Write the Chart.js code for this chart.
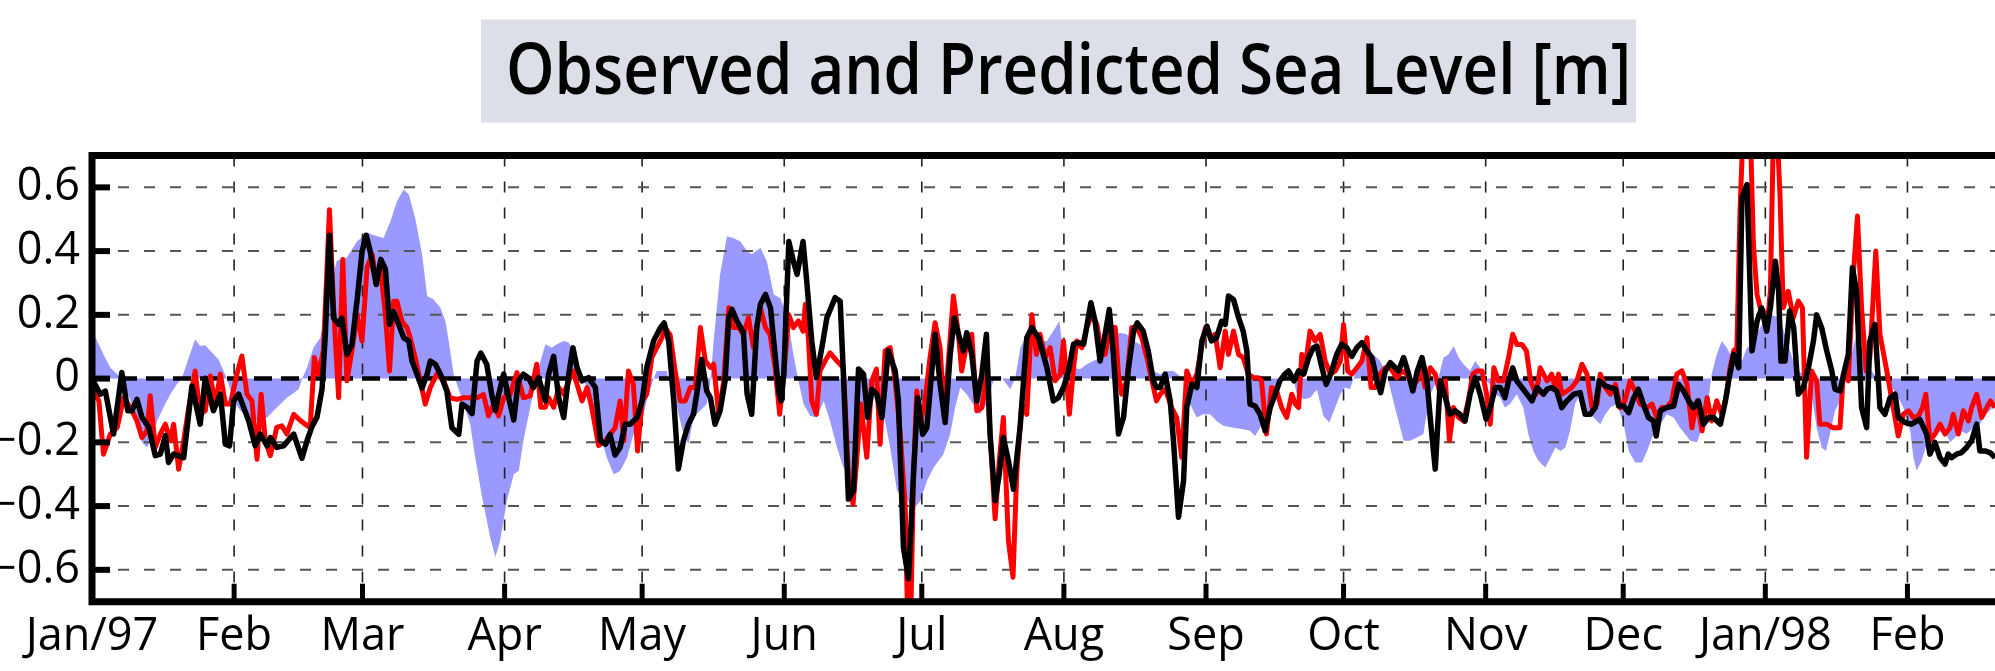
<!DOCTYPE html>
<html><head><meta charset="utf-8">
<script src="https://cdn.jsdelivr.net/npm/chart.js@4/dist/chart.umd.min.js"></script>
<style>html,body{margin:0;padding:0;background:#fff;overflow:hidden}canvas{display:block}</style>
</head><body>
<canvas id="c" width="1995" height="671"></canvas>
<script>
const titleText = 'Observed and Predicted Sea Level [m]';
// x values are days since 1 Jan 1997
const monthDays = [0,31,59,90,120,151,181,212,243,273,304,334,365,396];
const monthLabels = ['Jan/97','Feb','Mar','Apr','May','Jun','Jul','Aug','Sep','Oct','Nov','Dec','Jan/98','Feb'];
const levelTicks = [-0.6,-0.4,-0.2,0,0.2,0.4,0.6];

// black line
const predDays = [0,1.8,2.9,4.7,6.5,7.8,8.7,9.8,10.9,12.4,13.8,14.9,16.0,16.7,17.8,20.0,21.8,23.6,24.7,26.5,28.0,29.1,30.0,30.9,32.0,33.1,34.2,35.6,36.7,38.2,38.9,40.3,41.8,44.0,45.8,46.9,48.0,49.1,50.2,50.9,51.8,52.7,53.8,54.5,55.6,56.7,57.8,58.9,59.8,60.7,62.0,63.0,64.0,64.9,65.8,66.9,68.0,69.1,69.8,70.9,72.0,73.1,73.8,74.9,76.0,77.4,78.5,80.0,80.7,81.8,82.9,84.0,84.8,86.1,87.2,88.0,88.7,89.8,90.9,92.0,93.0,94.1,95.2,96.3,97.4,98.9,99.6,100.7,101.8,102.9,104.0,104.9,105.8,106.9,108.3,109.8,110.9,112.0,113.0,114.1,115.2,116.3,117.4,118.9,120.0,121.0,122.5,124.0,124.8,125.8,126.9,127.9,129.0,130.1,131.2,131.9,133.0,134.1,134.9,135.9,137.0,138.1,138.9,139.6,140.7,142.1,142.9,143.9,145.0,145.8,146.9,148.0,148.7,149.8,150.3,150.9,152.0,153.0,153.8,155.1,155.9,157.0,158.0,159.2,160.3,162.1,163.2,163.9,165.0,166.1,167.2,168.3,169.2,170.1,171.2,172.3,173.7,175.2,175.9,177.0,178.1,179.2,180.1,181.2,182.1,183.0,183.9,185.0,186.1,187.2,188.1,189.0,190.1,190.8,191.9,193.0,194.1,195.1,195.9,197.0,197.9,198.8,199.9,201.0,202.5,203.9,205.0,206.5,208.3,209.7,210.8,211.9,213.0,214.1,215.2,216.3,217.9,218.8,219.9,221.0,221.9,222.8,223.9,225.0,226.1,227.2,228.0,229.3,230.4,231.5,232.2,233.0,234.1,235.2,235.9,237.0,238.1,238.8,239.9,241.0,242.1,243.2,244.2,245.3,246.4,247.2,247.9,249.0,250.1,251.1,251.9,252.6,253.7,254.8,255.9,257.0,258.1,259.1,260.2,261.0,262.2,263.2,264.3,265.4,266.4,267.2,268.3,269.2,270.2,271.5,272.6,273.7,274.8,275.9,277.0,278.1,279.2,280.3,281.1,282.1,283.2,284.3,285.0,286.1,287.2,288.1,289.1,290.1,291.2,291.9,293.0,294.1,295.2,296.2,297.3,298.4,299.5,300.6,301.7,302.8,304.1,305.0,306.1,307.2,308.2,309.0,309.9,310.8,311.9,313.0,314.1,315.2,316.6,317.4,318.4,319.5,320.6,321.7,323.2,324.6,325.7,326.8,327.9,328.8,330.1,331.2,332.3,333.0,334.1,335.2,336.3,337.3,338.4,339.5,340.6,341.2,342.1,343.5,345.0,346.1,347.2,348.3,349.3,350.4,351.5,352.6,353.7,355.2,356.3,357.0,358.1,359.2,359.9,361.0,362.1,363.2,364.2,365.3,366.1,367.2,367.9,368.4,369.3,370.3,371.2,372.2,373.3,374.4,375.5,376.2,377.3,378.4,379.5,380.2,381.3,382.4,383.1,384.0,384.9,386.0,387.1,387.8,388.9,390.0,391.1,392.2,393.3,394.0,395.5,396.9,398.7,400.2,400.9,402.0,403.1,404.2,404.9,405.6,406.7,407.8,408.9,410.0,411.1,411.8,412.9,414.0,415.1];
const predLevel = [0.0,-0.049,-0.039,-0.174,0.019,-0.101,-0.101,-0.065,-0.122,-0.153,-0.242,-0.237,-0.179,-0.263,-0.237,-0.248,-0.023,-0.143,0.001,-0.101,-0.049,-0.206,-0.211,-0.07,-0.049,-0.091,-0.133,-0.211,-0.174,-0.211,-0.185,-0.216,-0.211,-0.174,-0.25,-0.195,-0.15,-0.12,-0.03,0.14,0.45,0.19,0.17,0.19,0.076,0.107,0.243,0.398,0.45,0.398,0.295,0.374,0.343,0.17,0.21,0.17,0.128,0.118,0.055,0.014,-0.03,0.014,0.055,0.045,0.014,-0.039,-0.154,-0.175,-0.08,-0.09,-0.11,0.055,0.08,0.045,-0.05,-0.1,-0.05,0.014,-0.06,-0.13,-0.007,0.014,0.003,-0.028,0.003,-0.07,0.014,0.07,-0.06,-0.122,0.014,0.097,0.035,-0.007,0.003,-0.028,-0.195,-0.206,-0.175,-0.24,-0.216,-0.143,-0.143,-0.122,-0.07,0.035,0.118,0.16,0.175,0.118,-0.07,-0.284,-0.195,-0.143,-0.112,-0.049,0.06,-0.039,-0.06,-0.143,-0.101,-0.007,0.191,0.217,0.18,0.144,-0.049,-0.112,0.16,0.233,0.264,0.222,0.118,-0.039,-0.07,0.014,0.43,0.368,0.327,0.43,0.306,0.118,0.003,0.097,0.191,0.254,0.243,0.014,-0.378,-0.352,0.03,0.014,-0.122,-0.034,-0.049,-0.122,0.087,0.024,-0.07,-0.53,-0.628,-0.3,-0.06,-0.175,-0.154,-0.007,0.139,-0.018,-0.138,0.076,0.191,0.139,0.087,0.144,0.076,-0.07,0.014,0.139,-0.175,-0.383,-0.3,-0.185,-0.258,-0.347,-0.143,0.128,0.16,0.128,0.034,-0.07,-0.06,-0.028,0.024,0.108,0.113,0.108,0.238,0.18,0.055,0.139,0.217,0.076,-0.174,-0.122,0.034,0.149,0.175,0.149,0.087,-0.007,-0.028,-0.028,0.014,-0.07,-0.195,-0.435,-0.32,-0.09,-0.018,-0.028,0.118,0.165,0.118,0.128,0.18,0.17,0.259,0.248,0.191,0.149,0.087,-0.08,-0.086,-0.112,-0.164,-0.091,-0.049,-0.007,0.014,0.024,-0.007,0.024,0.014,0.066,0.097,0.102,0.034,-0.018,0.014,0.076,0.108,0.097,0.07,0.097,0.113,0.087,0.066,-0.007,-0.044,0.024,0.05,0.034,0.024,0.066,0.014,-0.039,0.024,0.066,-0.007,-0.122,-0.284,-0.007,-0.06,-0.112,-0.101,-0.112,-0.133,-0.049,0.003,-0.049,-0.127,-0.091,-0.028,-0.028,-0.06,-0.007,0.034,-0.007,-0.028,-0.049,-0.07,-0.028,-0.049,-0.033,-0.028,-0.039,-0.091,-0.07,-0.049,-0.044,-0.112,-0.112,-0.091,-0.007,-0.023,-0.028,-0.033,-0.086,-0.086,-0.107,-0.06,-0.033,-0.08,-0.122,-0.133,-0.18,-0.101,-0.091,-0.086,-0.018,-0.039,-0.07,-0.091,-0.07,-0.143,-0.122,-0.122,-0.143,-0.07,-0.007,0.076,0.034,0.567,0.609,0.087,0.18,0.222,0.149,0.222,0.368,0.274,0.055,0.055,0.212,0.16,-0.049,-0.028,0.034,0.118,0.2,0.159,0.087,0.024,-0.033,-0.039,0.034,0.076,0.348,0.274,-0.091,-0.154,0.118,0.17,-0.091,-0.112,-0.06,-0.049,-0.122,-0.138,-0.143,-0.128,-0.174,-0.237,-0.2,-0.248,-0.268,-0.237,-0.248,-0.237,-0.232,-0.216,-0.195,-0.143,-0.227,-0.227,-0.232,-0.248];

// red line
const obsDays = [0,1.5,2.5,4.0,5.5,6.9,8.4,9.8,10.9,12.0,12.7,13.8,14.9,16.0,17.1,17.8,18.9,20.0,21.1,22.5,23.6,24.7,25.8,26.9,28.0,29.1,30.2,31.6,32.7,33.8,34.9,36.0,36.9,37.8,38.9,40.3,41.4,42.5,44.0,45.3,46.5,47.6,48.5,49.4,50.5,51.8,52.7,53.8,54.7,55.6,56.7,57.8,58.9,60.0,61.1,62.0,62.9,64.0,64.9,65.8,66.5,67.6,68.7,69.4,70.5,71.6,72.7,73.8,75.2,76.7,78.1,79.6,81.0,82.5,84.0,85.4,86.5,87.6,88.7,89.8,91.2,92.7,94.1,95.6,97.0,97.9,98.9,99.6,100.7,101.8,102.9,104.0,104.9,105.8,106.9,108.0,109.0,110.5,112.0,113.0,114.1,115.2,116.0,117.0,118.1,119.0,120.0,121.0,122.1,123.2,124.3,125.0,126.1,127.2,128.3,129.4,130.5,131.6,132.7,133.8,134.9,135.6,136.7,137.8,138.9,139.9,141.0,142.1,143.2,144.3,145.0,145.8,146.9,147.9,149.0,150.0,150.9,152.0,153.0,154.1,155.1,155.6,156.3,157.0,158.0,158.8,159.9,161.0,162.5,163.9,165.0,166.0,166.8,167.7,169.0,170.1,171.1,171.9,173.0,174.1,175.2,176.3,177.4,177.9,178.6,179.2,179.9,180.8,181.7,182.8,183.9,185.0,185.9,186.8,187.9,189.0,189.7,190.8,191.9,193.0,194.1,195.2,195.9,197.0,197.9,198.8,199.9,200.9,201.7,202.8,203.9,205.0,206.0,206.8,207.9,209.0,210.1,211.2,211.9,212.6,213.2,214.1,214.8,215.9,217.0,218.1,219.2,220.3,221.0,222.1,223.2,223.9,224.6,225.7,226.8,227.9,229.0,230.1,231.2,232.2,233.0,234.1,235.5,236.6,237.7,238.8,239.9,241.0,242.1,242.9,243.9,245.0,246.1,247.2,247.9,249.0,250.1,251.1,252.2,253.3,254.4,255.1,256.2,257.3,258.4,259.5,260.6,261.7,262.5,263.2,263.9,264.6,265.7,266.8,267.9,269.0,270.1,271.2,272.3,273.0,273.9,274.8,275.9,277.0,278.1,279.0,279.9,281.0,282.1,283.2,284.6,285.7,286.8,287.9,289.0,290.1,290.8,291.9,293.0,294.1,295.2,296.1,297.0,298.1,299.2,300.2,301.2,302.1,303.2,304.2,305.0,305.8,306.8,307.9,309.0,309.9,310.8,311.9,312.9,313.8,315.0,315.9,316.6,317.4,318.4,319.2,319.9,320.6,321.7,322.8,323.9,325.0,326.1,327.2,328.3,329.0,330.1,331.2,332.3,333.4,334.4,335.5,336.6,337.7,339.2,340.3,341.3,342.4,343.5,344.6,345.7,346.8,347.9,349.0,350.1,351.2,352.3,353.3,354.4,355.5,356.6,357.3,358.1,358.8,359.5,360.2,361.7,362.4,363.2,363.9,364.6,365.3,366.1,366.8,367.5,368.2,368.9,370.0,371.1,372.2,373.1,374.0,375.1,376.2,376.9,378.4,379.8,381.3,382.0,383.1,384.2,385.1,386.0,387.0,387.8,389.1,390.0,391.5,392.9,394.0,395.1,396.2,397.3,398.4,399.3,400.0,400.9,402.0,403.1,404.2,405.3,406.0,407.1,408.2,409.3,410.0,411.1,412.2,413.3,414.1,415.1];
const obsLevel = [-0.03,-0.07,-0.237,-0.174,-0.153,-0.06,-0.091,-0.133,-0.185,-0.164,-0.054,-0.216,-0.174,-0.143,-0.195,-0.143,-0.284,-0.195,-0.091,0.024,-0.112,-0.101,0.008,-0.08,0.014,-0.08,-0.08,0.014,0.071,-0.049,-0.07,-0.253,-0.049,-0.195,-0.242,-0.153,-0.148,-0.174,-0.112,-0.13,-0.143,-0.154,0.066,0.014,0.09,0.53,0.222,-0.06,0.374,-0.007,0.087,0.202,0.118,0.348,0.39,0.306,0.348,0.201,0.024,0.243,0.243,0.18,0.16,0.128,0.066,-0.007,-0.08,-0.028,0.014,-0.007,-0.06,-0.065,-0.06,-0.06,-0.06,-0.05,-0.117,-0.08,-0.117,-0.06,-0.05,0.019,-0.06,-0.054,0.045,-0.09,-0.09,-0.06,-0.09,-0.028,-0.049,-0.007,0.024,-0.018,-0.07,-0.028,-0.09,-0.21,-0.195,-0.175,-0.154,-0.07,-0.195,0.024,-0.018,-0.227,-0.07,-0.049,0.066,0.097,0.128,0.16,0.138,0.024,-0.07,-0.07,-0.028,-0.028,0.16,0.055,0.035,0.045,-0.112,-0.007,0.222,0.16,0.16,0.139,0.191,0.097,0.16,0.222,0.16,0.139,0.035,-0.112,0.014,0.2,0.16,0.181,0.149,0.233,0.118,-0.07,-0.112,0.024,0.055,0.081,0.055,0.034,-0.3,-0.394,-0.258,-0.08,-0.247,-0.007,0.03,-0.206,0.087,0.097,-0.007,-0.174,-0.404,-0.75,-0.75,-0.3,-0.039,-0.133,-0.07,0.066,0.175,0.097,-0.122,0.055,0.259,0.139,0.024,0.108,0.139,-0.101,-0.091,0.014,-0.175,-0.44,-0.258,-0.122,-0.508,-0.623,-0.3,-0.08,-0.112,0.2,0.076,0.139,0.066,0.097,-0.007,0.014,0.118,-0.007,-0.112,0.034,0.118,0.097,0.16,0.201,0.17,0.076,0.076,0.16,0.16,0.014,-0.049,-0.007,0.16,0.16,0.128,0.066,-0.007,-0.07,-0.049,-0.033,-0.091,-0.122,-0.247,0.024,-0.018,0.014,0.107,0.16,0.128,0.139,0.034,0.149,0.076,0.149,0.076,0.066,0.014,0.003,0.003,-0.007,-0.174,-0.028,-0.039,-0.091,-0.122,-0.049,-0.08,-0.091,0.076,0.034,0.149,0.118,0.139,0.055,0.014,0.024,0.055,0.17,0.024,0.014,0.034,0.055,0.128,-0.028,-0.028,0.014,0.034,0.034,0.003,0.024,0.014,-0.018,-0.007,0.024,-0.028,0.034,0.014,-0.049,-0.007,-0.195,-0.091,-0.122,-0.133,-0.07,0.014,0.024,0.024,-0.049,-0.143,0.034,-0.007,-0.007,0.066,0.139,0.107,0.107,0.087,-0.007,-0.049,0.034,0.014,-0.007,0.014,-0.028,0.014,-0.049,-0.039,-0.028,-0.007,0.045,0.014,-0.091,-0.08,0.014,-0.028,-0.049,-0.018,-0.091,-0.07,-0.007,-0.039,-0.08,-0.091,-0.08,-0.122,-0.091,-0.091,-0.07,0.014,0.024,-0.018,-0.154,-0.07,-0.164,-0.06,-0.133,-0.07,-0.112,-0.049,0.034,0.087,0.097,0.535,0.8,0.8,0.42,0.264,0.222,0.212,0.149,0.274,0.8,0.8,0.577,0.222,0.274,0.191,0.243,0.222,-0.247,0.024,-0.007,-0.143,-0.143,-0.154,-0.154,0.014,-0.007,0.327,0.51,0.222,0.024,0.066,0.4,0.139,0.024,-0.091,-0.18,-0.112,-0.101,-0.122,-0.117,-0.091,-0.049,-0.195,-0.174,-0.143,-0.174,-0.154,-0.112,-0.174,-0.101,-0.133,-0.091,-0.049,-0.122,-0.091,-0.07,-0.091];

// blue shaded band
const bandDays = [0,1.5,2.5,4.0,5.5,6.5,8.4,9.8,10.9,12.0,13.1,14.2,15.6,17.1,18.5,19.6,21.1,22.5,23.6,24.7,26.2,27.6,28.7,29.4,30.9,32.4,33.8,35.3,36.7,38.2,39.6,41.1,42.5,44.0,45.1,45.8,46.9,48.3,49.8,51.2,53.4,55.6,57.8,60.0,62.2,63.6,65.1,66.5,68.0,69.1,70.5,72.0,73.1,74.5,76.0,77.1,77.8,78.9,79.6,81.1,82.5,83.6,85.1,86.9,88.0,89.0,90.5,92.0,93.1,94.1,95.6,97.4,98.9,100.3,101.4,102.9,104.0,105.0,106.1,106.9,108.0,109.4,110.9,112.3,113.8,115.2,116.7,118.1,119.6,121.0,122.5,123.2,125.4,126.1,127.6,129.0,130.1,131.2,132.7,134.1,134.9,135.6,137.0,138.5,140.0,141.4,142.9,143.9,145.8,147.2,148.7,150.1,151.6,153.0,154.1,155.2,156.7,158.1,159.6,161.0,162.5,163.9,165.4,166.5,167.6,169.7,171.2,172.7,174.1,175.6,177.4,179.2,180.7,182.1,183.6,185.7,187.2,188.3,189.4,190.8,192.6,193.7,195.2,196.6,198.1,199.2,200.3,201.4,202.5,203.6,205.0,206.5,208.3,209.7,211.0,211.9,213.0,214.1,215.5,217.0,218.4,219.9,221.3,222.8,224.2,225.7,227.2,228.6,230.1,231.5,233.0,234.4,235.9,237.3,238.8,239.5,241.0,242.4,243.9,245.3,246.8,249.0,251.1,252.6,253.7,254.8,256.2,257.7,259.1,260.6,262.1,262.8,264.3,265.7,267.2,268.6,269.9,271.2,272.3,273.3,274.4,275.5,276.6,278.1,279.5,281.0,282.4,283.5,284.6,286.1,287.5,289.0,290.4,291.9,293.7,294.8,295.9,297.0,298.1,299.2,300.6,301.7,302.8,303.9,305.0,306.1,307.2,308.2,309.3,310.8,312.2,313.3,314.4,315.5,317.0,318.1,319.2,320.3,321.4,322.4,323.5,324.6,326.1,327.5,329.0,330.1,331.2,332.6,334.1,335.2,336.6,338.1,339.2,340.6,342.1,343.5,345.0,346.4,347.5,348.6,350.1,351.5,352.3,353.3,354.4,355.5,356.6,357.7,358.8,359.9,361.0,362.4,363.5,364.6,366.1,368.2,369.7,371.1,372.2,373.3,374.4,375.1,376.2,377.3,378.2,379.1,380.2,381.3,382.7,383.8,384.9,386.0,387.1,388.2,389.3,390.7,392.2,393.6,395.1,396.6,397.3,398.0,399.1,400.2,401.3,402.4,403.5,404.5,405.3,406.4,407.5,408.9,410.4,411.8,412.9,414.0,415.1];
const bandLevel = [0.15,0.107,0.076,0.034,0.014,0.0,-0.07,-0.153,-0.2,-0.216,-0.185,-0.133,-0.09,-0.049,-0.018,0.0,0.066,0.123,0.102,0.105,0.081,0.06,0.024,0.0,-0.07,-0.101,-0.122,-0.133,-0.127,-0.122,-0.101,-0.08,-0.06,-0.045,-0.033,-0.002,0.035,0.097,0.128,0.24,0.37,0.38,0.43,0.458,0.447,0.441,0.494,0.556,0.593,0.578,0.504,0.39,0.259,0.248,0.222,0.18,0.118,0.014,-0.018,-0.08,-0.143,-0.248,-0.373,-0.5,-0.56,-0.51,-0.383,-0.3,-0.289,-0.195,-0.09,0.034,0.108,0.097,0.108,0.118,0.113,0.076,0.034,0.0,-0.028,-0.09,-0.175,-0.248,-0.3,-0.29,-0.248,-0.175,-0.154,-0.07,0.0,0.024,0.024,-0.028,-0.09,-0.174,-0.206,-0.122,-0.1,-0.08,-0.007,0.118,0.327,0.447,0.44,0.43,0.4,0.39,0.41,0.368,0.264,0.253,0.2,0.076,-0.007,-0.08,-0.117,-0.122,-0.07,-0.133,-0.216,-0.279,-0.3,-0.3,-0.154,-0.09,-0.049,-0.112,-0.216,-0.352,-0.373,-0.41,-0.383,-0.321,-0.279,-0.237,-0.174,-0.09,-0.028,-0.049,-0.09,-0.112,-0.08,-0.007,0.008,-0.012,-0.033,0.003,0.097,0.128,0.139,0.118,0.118,0.149,0.18,0.076,0.024,0.034,0.029,0.045,0.055,0.066,0.087,0.128,0.144,0.139,0.118,0.108,0.076,0.024,0.014,0.024,0.024,0.008,-0.007,-0.08,-0.122,-0.112,-0.112,-0.133,-0.148,-0.154,-0.159,-0.164,-0.18,-0.154,-0.091,-0.049,-0.007,0.003,-0.002,-0.049,-0.065,-0.06,-0.034,-0.117,-0.138,-0.09,-0.049,-0.028,-0.033,0.014,0.055,0.087,0.076,0.055,0.014,-0.049,-0.112,-0.195,-0.195,-0.185,-0.174,-0.049,0.003,0.066,0.076,0.102,0.066,0.045,0.024,0.055,0.034,-0.007,-0.018,-0.049,-0.06,-0.091,-0.08,-0.049,-0.091,-0.174,-0.227,-0.258,-0.279,-0.248,-0.216,-0.227,-0.216,-0.164,-0.08,-0.049,-0.101,-0.122,-0.143,-0.112,-0.091,-0.08,-0.143,-0.227,-0.263,-0.263,-0.227,-0.174,-0.143,-0.112,-0.122,-0.154,-0.174,-0.195,-0.2,-0.143,-0.101,0.014,0.076,0.118,0.097,0.066,0.055,0.055,0.097,0.107,0.149,0.18,0.201,0.19,0.118,0.055,0.024,0.014,0.003,-0.049,-0.154,-0.216,-0.227,-0.174,-0.101,-0.07,0.014,0.076,0.139,0.097,0.055,0.024,0.003,-0.002,-0.018,-0.049,-0.091,-0.164,-0.247,-0.289,-0.258,-0.206,-0.195,-0.174,-0.164,-0.174,-0.2,-0.185,-0.164,-0.174,-0.154,-0.143,-0.112,-0.101,-0.08];

const toPoints = (days, vals) => days.map((d, i) => ({x: d, y: vals[i]}));
const FONT = '"Open Sans", "Noto Sans", sans-serif';

const framePlugin = {
  id: 'frame',
  afterDatasetDraw(chart, args) {
    if (args.index !== 2) return;           // right after the blue band
    const {ctx, chartArea: a, scales: {x, y}} = chart;
    ctx.save();
    ctx.lineCap = 'butt';
    // vertical month grid
    ctx.setLineDash([11, 15]);
    ctx.lineWidth = 1.6; ctx.strokeStyle = '#222';
    monthDays.forEach(d => {
      if (d <= x.min) return;
      const px = x.getPixelForValue(d);
      ctx.beginPath(); ctx.moveTo(px, a.top); ctx.lineTo(px, a.bottom); ctx.stroke();
    });
    // horizontal grid
    ctx.lineWidth = 2; ctx.strokeStyle = '#555';
    levelTicks.forEach(v => {
      if (v === 0) return;
      const py = y.getPixelForValue(v);
      ctx.beginPath(); ctx.moveTo(a.left, py); ctx.lineTo(a.right, py); ctx.stroke();
    });
    // zero line
    ctx.setLineDash([18, 9]);
    ctx.lineWidth = 4.5; ctx.strokeStyle = '#000';
    const p0 = y.getPixelForValue(0);
    ctx.beginPath(); ctx.moveTo(a.left, p0); ctx.lineTo(a.right, p0); ctx.stroke();
    ctx.restore();
  },
  afterDraw(chart) {
    const {ctx, chartArea: a, scales: {x, y}} = chart;
    ctx.save();
    ctx.setLineDash([]);
    ctx.strokeStyle = '#000';
    // inward tick marks
    ctx.lineWidth = 6;
    levelTicks.forEach(v => {
      const py = y.getPixelForValue(v);
      ctx.beginPath(); ctx.moveTo(a.left, py); ctx.lineTo(a.left + 18, py); ctx.stroke();
    });
    ctx.lineWidth = 5;
    monthDays.forEach(d => {
      const px = x.getPixelForValue(d);
      ctx.beginPath(); ctx.moveTo(px, a.bottom); ctx.lineTo(px, a.bottom - 18); ctx.stroke();
    });
    // frame (left, top, bottom; right side is cut off)
    ctx.lineWidth = 7; ctx.lineCap = 'square'; ctx.lineJoin = 'miter';
    ctx.beginPath();
    ctx.moveTo(chart.width + 5, a.top); ctx.lineTo(a.left, a.top);
    ctx.lineTo(a.left, a.bottom); ctx.lineTo(chart.width + 5, a.bottom);
    ctx.stroke();
    // title box and text
    ctx.fillStyle = '#dcdfe8';
    ctx.fillRect(481, 19.5, 1155, 103);
    ctx.font = '600 71px ' + FONT;
    ctx.fillStyle = '#000';
    ctx.textBaseline = 'alphabetic';
    ctx.textAlign = 'center';
    const w = ctx.measureText(titleText).width;
    const sx = 1125 / w;
    ctx.translate(1068.5, 94);
    ctx.scale(sx, 1);
    ctx.fillText(titleText, 0, 0);
    ctx.restore();
  }
};

new Chart(document.getElementById('c'), {
  type: 'line',
  data: {
    datasets: [
      {label: 'Predicted', data: toPoints(predDays, predLevel), borderColor: '#000000', borderWidth: 5.5,
       pointRadius: 0, fill: false, tension: 0, order: 0, borderJoinStyle: 'round'},
      {label: 'Observed', data: toPoints(obsDays, obsLevel), borderColor: '#ff0000', borderWidth: 5,
       pointRadius: 0, fill: false, tension: 0, order: 1, borderJoinStyle: 'round'},
      {label: 'Band', data: toPoints(bandDays, bandLevel), borderColor: 'rgba(0,0,0,0)', borderWidth: 0,
       backgroundColor: '#9999ff', fill: 'origin', pointRadius: 0, tension: 0, order: 2}
    ]
  },
  options: {
    responsive: false, animation: false, devicePixelRatio: 1,
    layout: {padding: {top: 155.5, left: 0, right: 0, bottom: 0}},
    plugins: {legend: {display: false}, tooltip: {enabled: false}, title: {display: false}},
    scales: {
      x: {
        type: 'linear', min: 0, max: 415.1,
        grid: {display: false, drawTicks: false}, border: {display: false},
        afterBuildTicks: s => { s.ticks = monthDays.map(v => ({value: v})); },
        ticks: {autoSkip: false, maxRotation: 0, minRotation: 0, padding: 8.5, color: '#000',
                font: {family: FONT, size: 45},
                callback: v => monthLabels[monthDays.indexOf(v)]},
        afterFit: s => { s.height = 69.3; }
      },
      y: {
        type: 'linear', min: -0.7, max: 0.7,
        grid: {display: false, drawTicks: false}, border: {display: false},
        afterBuildTicks: s => { s.ticks = levelTicks.map(v => ({value: v})); },
        ticks: {padding: 12, color: '#000', font: {family: FONT, size: 45},
                callback: v => v === 0 ? '0' : (v < 0 ? '\u2212' + Math.abs(v).toFixed(1) : v.toFixed(1))},
        afterFit: s => { s.width = 92; }
      }
    }
  },
  plugins: [framePlugin]
});
</script>
</body></html>
